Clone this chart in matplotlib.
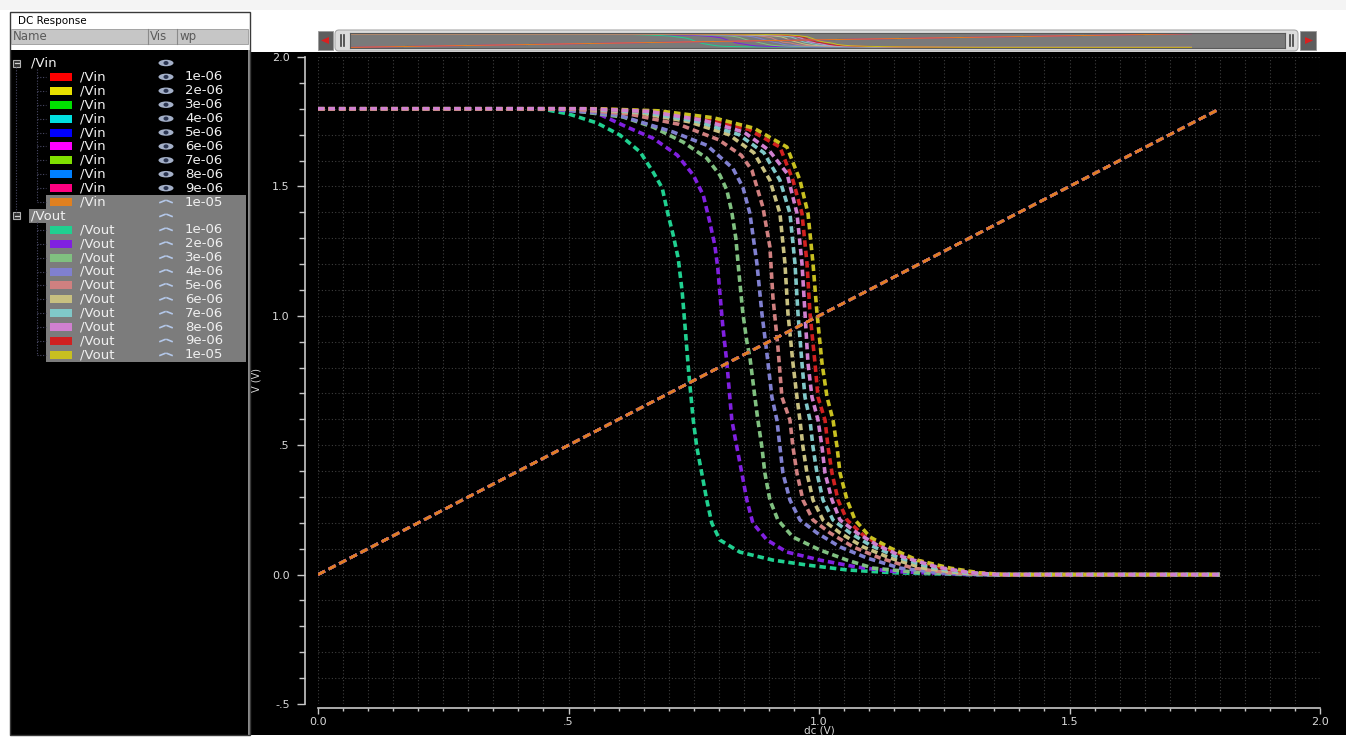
import matplotlib
matplotlib.use('Agg')
import matplotlib.pyplot as plt
from matplotlib.patches import Rectangle, Ellipse, FancyBboxPatch, Polygon
from matplotlib.ticker import FixedLocator, FixedFormatter, MultipleLocator

W, H = 1346, 738

# 扫描参数 wp 及颜色
wp_labels = ['1e-06', '2e-06', '3e-06', '4e-06', '5e-06',
             '6e-06', '7e-06', '8e-06', '9e-06', '1e-05']
vin_colors = ['#ff0000', '#e8e000', '#00e000', '#00e0e0', '#0000ff',
              '#ff00ff', '#80e000', '#0080ff', '#ff0080', '#e08020']
vout_colors = ['#20d090', '#8020e0', '#80c080', '#8080d0', '#d08080',
               '#c8c080', '#80c8c8', '#d080d0', '#d02020', '#c8c020']

# 输入: Vin = dc
vin_x = [0.0, 1.8]
vin_y = [0.0, 1.8]

# 输出曲线
vout1_x = [0.0, 0.45, 0.50, 0.557, 0.603, 0.643, 0.669, 0.687, 0.699, 0.709, 0.719, 0.727, 0.733,
           0.740, 0.749, 0.756, 0.766, 0.776, 0.786, 0.802, 0.842, 0.908, 0.976, 1.056, 1.15, 1.30, 1.80]
vout1_y = [1.8, 1.798, 1.78, 1.745, 1.698, 1.633, 1.555, 1.494, 1.389, 1.312, 1.222, 1.091, 0.95,
           0.78, 0.597, 0.493, 0.392, 0.288, 0.199, 0.134, 0.087, 0.056, 0.037, 0.018, 0.007, 0.0, 0.0]

vout2_x = [0.0, 0.47, 0.557, 0.617, 0.669, 0.717, 0.749, 0.769, 0.782, 0.792, 0.798, 0.802, 0.808,
           0.816, 0.826, 0.836, 0.846, 0.856, 0.868, 0.896, 0.936, 1.002, 1.076, 1.15, 1.30, 1.80]
vout2_y = [1.8, 1.798, 1.783, 1.729, 1.686, 1.621, 1.544, 1.466, 1.362, 1.273, 1.184, 1.091, 0.96,
           0.82, 0.597, 0.493, 0.392, 0.288, 0.199, 0.134, 0.087, 0.056, 0.029, 0.012, 0.0, 0.0]

vout3_x = [0.0, 0.48, 0.609, 0.669, 0.729, 0.776, 0.802, 0.816, 0.826, 0.834, 0.840, 0.848, 0.856,
           0.862, 0.872, 0.878, 0.886, 0.892, 0.902, 0.918, 0.948, 1.002, 1.056, 1.108, 1.20, 1.32, 1.80]
vout3_y = [1.8, 1.8, 1.768, 1.729, 1.671, 1.609, 1.544, 1.486, 1.40, 1.30, 1.17, 1.01, 0.90,
           0.841, 0.686, 0.597, 0.493, 0.392, 0.288, 0.211, 0.145, 0.095, 0.056, 0.025, 0.008, 0.0, 0.0]

vout4_x = [0.0, 0.48, 0.60, 0.709, 0.776, 0.828, 0.848, 0.862, 0.876, 0.886, 0.896, 0.906, 0.916,
           0.922, 0.928, 0.942, 0.962, 0.996, 1.042, 1.096, 1.162, 1.24, 1.33, 1.80]
vout4_y = [1.8, 1.8, 1.775, 1.71, 1.659, 1.57, 1.497, 1.396, 1.203, 1.01, 0.855, 0.686, 0.597,
           0.493, 0.392, 0.288, 0.211, 0.161, 0.107, 0.064, 0.025, 0.007, 0.0, 0.0]

vout5_x = [0.0, 0.50, 0.62, 0.72, 0.80, 0.845, 0.866, 0.888, 0.902, 0.908, 0.918, 0.926, 0.942,
           0.948, 0.956, 0.968, 0.988, 1.022, 1.068, 1.122, 1.188, 1.26, 1.34, 1.80]
vout5_y = [1.8, 1.8, 1.78, 1.74, 1.68, 1.62, 1.563, 1.42, 1.266, 1.072, 0.879, 0.686, 0.597,
           0.493, 0.392, 0.288, 0.211, 0.161, 0.107, 0.064, 0.025, 0.007, 0.0, 0.0]

vout6_x = [0.0, 0.52, 0.64, 0.74, 0.82, 0.87, 0.902, 0.922, 0.932, 0.938, 0.948, 0.956, 0.962,
           0.968, 0.976, 0.988, 1.008, 1.042, 1.088, 1.142, 1.208, 1.28, 1.35, 1.80]
vout6_y = [1.8, 1.8, 1.785, 1.75, 1.70, 1.63, 1.524, 1.396, 1.203, 1.01, 0.817, 0.686, 0.597,
           0.493, 0.392, 0.288, 0.211, 0.161, 0.107, 0.064, 0.025, 0.007, 0.0, 0.0]

vout7_x = [0.0, 0.53, 0.65, 0.76, 0.84, 0.89, 0.922, 0.942, 0.952, 0.958, 0.966, 0.972, 0.982,
           0.988, 0.996, 1.008, 1.028, 1.062, 1.102, 1.156, 1.222, 1.29, 1.35, 1.80]
vout7_y = [1.8, 1.8, 1.787, 1.75, 1.70, 1.63, 1.524, 1.396, 1.203, 1.01, 0.817, 0.686, 0.597,
           0.493, 0.392, 0.288, 0.211, 0.161, 0.114, 0.068, 0.029, 0.008, 0.0, 0.0]

vout8_x = [0.0, 0.54, 0.66, 0.77, 0.85, 0.90, 0.936, 0.956, 0.966, 0.972, 0.978, 0.986, 0.998,
           1.006, 1.012, 1.026, 1.042, 1.076, 1.116, 1.168, 1.236, 1.30, 1.36, 1.80]
vout8_y = [1.8, 1.8, 1.79, 1.755, 1.71, 1.64, 1.551, 1.396, 1.203, 1.01, 0.817, 0.686, 0.597,
           0.493, 0.392, 0.288, 0.211, 0.161, 0.114, 0.068, 0.029, 0.008, 0.0, 0.0]

vout9_x = [0.0, 0.55, 0.67, 0.78, 0.86, 0.922, 0.948, 0.966, 0.976, 0.982, 0.992, 0.998, 1.012,
           1.018, 1.026, 1.038, 1.056, 1.088, 1.128, 1.182, 1.248, 1.31, 1.37, 1.80]
vout9_y = [1.8, 1.8, 1.79, 1.76, 1.72, 1.652, 1.524, 1.396, 1.203, 1.01, 0.817, 0.686, 0.597,
           0.493, 0.392, 0.288, 0.211, 0.153, 0.107, 0.064, 0.025, 0.007, 0.0, 0.0]

vout10_x = [0.0, 0.56, 0.68, 0.79, 0.87, 0.936, 0.962, 0.978, 0.988, 0.996, 1.006, 1.016, 1.028,
            1.036, 1.042, 1.056, 1.072, 1.102, 1.142, 1.196, 1.262, 1.32, 1.37, 1.80]
vout10_y = [1.8, 1.8, 1.792, 1.765, 1.725, 1.652, 1.524, 1.396, 1.203, 1.01, 0.817, 0.686, 0.597,
            0.493, 0.392, 0.288, 0.211, 0.145, 0.103, 0.056, 0.025, 0.007, 0.0, 0.0]

vout_x = [vout1_x, vout2_x, vout3_x, vout4_x, vout5_x, vout6_x, vout7_x, vout8_x, vout9_x, vout10_x]
vout_y = [vout1_y, vout2_y, vout3_y, vout4_y, vout5_y, vout6_y, vout7_y, vout8_y, vout9_y, vout10_y]

xtick_vals = [0.0, 0.5, 1.0, 1.5, 2.0]
xtick_labels = ['0.0', '.5', '1.0', '1.5', '2.0']
ytick_vals = [-0.5, 0.0, 0.5, 1.0, 1.5, 2.0]
ytick_labels = ['-.5', '0.0', '.5', '1.0', '1.5', '2.0']

fig = plt.figure(figsize=(W / 100, H / 100), dpi=100, facecolor='white')

# ---- 界面背景 (像素坐标) ----
ui = fig.add_axes([0, 0, 1, 1], zorder=0)
ui.set_xlim(0, W)
ui.set_ylim(H, 0)
ui.axis('off')

def rect(x0, y0, x1, y1, **kw):
    ui.add_patch(Rectangle((x0, y0), x1 - x0, y1 - y0, **kw))

rect(0, 0, W, 10, fc='#f4f4f4', ec='none')
rect(251, 52, W, 735, fc='black', ec='none')
rect(11, 50, 248, 735, fc='black', ec='none')
rect(248, 50, 251, 735, fc='#8a8a8a', ec='none')
rect(10, 12, 250, 735, fc='none', ec='#3a3a3a', lw=1)
ui.text(18, 21, 'DC Response', fontsize=7.5, color='black', va='center', ha='left')

# 表头
rect(11, 29, 248, 44, fc='#c6c6c6', ec='#9a9a9a', lw=0.6)
for sx in (148, 177):
    ui.plot([sx, sx], [29, 44], color='#8a8a8a', lw=0.8)
ui.text(13, 36.5, 'Name', fontsize=8.5, color='#5a5a5a', va='center')
ui.text(150, 36.5, 'Vis', fontsize=8.5, color='#5a5a5a', va='center')
ui.text(180, 36.5, 'wp', fontsize=8.5, color='#5a5a5a', va='center')

# 树形列表
row_y = [63 + 13.9 * k for k in range(22)]
rect(46, row_y[10] - 7, 246, row_y[21] + 7, fc='#7c7c7c', ec='none')
rect(29, row_y[11] - 7, 246, row_y[11] + 7, fc='#7c7c7c', ec='none')

tree = dict(color='#4a4a66', lw=0.8, ls=(0, (1, 1.5)))
ui.plot([16, 16], [row_y[0] + 4, row_y[11] - 4], **tree)
ui.plot([37, 37], [row_y[0] + 6, row_y[10]], **tree)
ui.plot([37, 37], [row_y[11] + 6, row_y[21]], **tree)
for k in list(range(1, 11)) + list(range(12, 22)):
    ui.plot([37, 46], [row_y[k], row_y[k]], **tree)


def eye(x, y, shown):
    if shown:
        ui.add_patch(Ellipse((x, y), 15, 6.5, fc='#a4b0c8', ec='none'))
        ui.add_patch(Ellipse((x, y), 5, 4, fc='#2c3652', ec='none'))
    else:
        ui.plot([x - 6, x - 1], [y + 0.5, y - 1.5], color='#b4c8ea', lw=1.2)
        ui.plot([x + 1, x + 6], [y - 1.5, y + 0.5], color='#b4c8ea', lw=1.2)


for hy, name, shown in ((row_y[0], '/Vin', True), (row_y[11], '/Vout', False)):
    rect(13, hy - 3.5, 20, hy + 3.5, fc='#303030', ec='#b0b0b0', lw=0.8)
    ui.plot([14.5, 18.5], [hy, hy], color='#d0d0d0', lw=0.9)
    ui.text(31, hy, name, fontsize=9.5, color='#f0f0f0', va='center')
    eye(166, hy, shown)

for i in range(10):
    for base, name, cols in ((1, '/Vin', vin_colors), (12, '/Vout', vout_colors)):
        y = row_y[base + i]
        rect(50, y - 4, 72, y + 4, fc=cols[i], ec='none')
        ui.text(80, y, name, fontsize=9.5, color='#f0f0f0', va='center')
        ui.text(185, y, wp_labels[i], fontsize=9.5, color='#f0f0f0', va='center')
        eye(166, y, base == 1 and i < 9)

# 顶部滑块
rect(318, 31, 333, 50, fc='#5e5e5e', ec='#9a9a9a', lw=0.6)
ui.add_patch(Polygon([(321, 40.5), (329, 37), (329, 44)], closed=True, fc='#d82020', ec='none'))
ui.add_patch(FancyBboxPatch((335, 30), 963, 21, boxstyle='round,pad=0,rounding_size=4',
                            fc='#dcdcdc', ec='#a8a8a8', lw=0.8))
for hx in (341, 344, 1290, 1293):
    ui.plot([hx, hx], [35, 46], color='#404040', lw=1.2)
rect(1300, 31, 1316, 50, fc='#5e5e5e', ec='#9a9a9a', lw=0.6)
ui.add_patch(Polygon([(1313, 40.5), (1305, 37), (1305, 44)], closed=True, fc='#d82020', ec='none'))

thumb = fig.add_axes([350 / W, (H - 48) / H, 935 / W, 15 / H], zorder=3)
thumb.set_facecolor('#7a7a7a')
for i in range(10):
    thumb.plot(vout_x[i], vout_y[i], color=vout_colors[i], lw=0.7)
    thumb.plot(vin_x, vin_y, color=vin_colors[i], lw=0.7)
thumb.set_xlim(0, 2.0)
thumb.set_ylim(-0.08, 1.9)
thumb.set_xticks([])
thumb.set_yticks([])
for s in thumb.spines.values():
    s.set_color('#5a5a5a')

# ---- 主图 ----
ax = fig.add_axes([318 / W, (H - 704) / H, 1002 / W, 647 / H], zorder=2)
ax.patch.set_visible(False)

for i in range(10):
    ax.plot(vout_x[i], vout_y[i], color=vout_colors[i], lw=2.6, dashes=(1.8, 1.1),
            zorder=2.5 if i == 7 else 2)
for i in range(10):
    ax.plot(vin_x, vin_y, color=vin_colors[i], lw=2.0, dashes=(2.8, 1.5), zorder=3)

ax.set_xlim(0, 2.0)
ax.set_ylim(-0.5, 2.0)
ax.xaxis.set_major_locator(FixedLocator(xtick_vals))
ax.xaxis.set_major_formatter(FixedFormatter(xtick_labels))
ax.xaxis.set_minor_locator(MultipleLocator(0.05))
ax.yaxis.set_major_locator(FixedLocator(ytick_vals))
ax.yaxis.set_major_formatter(FixedFormatter(ytick_labels))
ax.yaxis.set_minor_locator(MultipleLocator(0.1))

ax.grid(which='both', color='#3e3e3e', ls=(0, (1, 2)), lw=0.8)

for side in ('top', 'right'):
    ax.spines[side].set_visible(False)
ax.spines['left'].set_position(('outward', 9.4))
ax.spines['bottom'].set_position(('outward', 2.9))
for side in ('left', 'bottom'):
    ax.spines[side].set_color('#c8c8c8')
    ax.spines[side].set_linewidth(1.2)

ax.tick_params(axis='y', which='major', length=6, width=1, color='#c8c8c8',
               labelcolor='#d8d8d8', labelsize=8, pad=5)
ax.tick_params(axis='y', which='minor', length=4.5, width=1, color='#c8c8c8')
ax.tick_params(axis='x', which='major', length=4, width=1, color='#c8c8c8',
               labelcolor='#d8d8d8', labelsize=8, pad=2.5)
ax.tick_params(axis='x', which='minor', length=2.5, width=1, color='#c8c8c8')

ax.set_xlabel('dc (V)', fontsize=7.5, color='#d8d8d8')
ax.xaxis.set_label_coords(0.5, -0.033)
ax.set_ylabel('V (V)', fontsize=7, color='#d8d8d8')
ax.yaxis.set_label_coords(-0.056, 0.5)

fig.savefig('out.png', dpi=100, facecolor='white')
